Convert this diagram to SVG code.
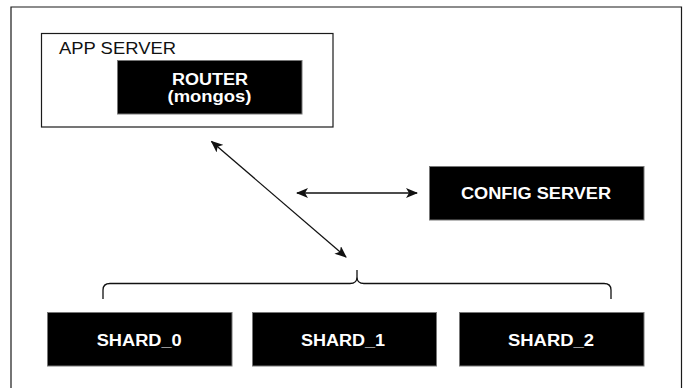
<svg xmlns="http://www.w3.org/2000/svg" width="684" height="388" viewBox="0 0 684 388">
  <style>
    .frame { fill: #ffffff; stroke: #1a1a1a; stroke-width: 1.2; }
    .block { fill: #000000; stroke: #777777; stroke-width: 1; }
    .label { fill: #ffffff; font-family: "Liberation Sans", Arial, sans-serif; font-weight: bold; font-size: 16px; text-anchor: middle; }
    .plain { fill: #111111; font-family: "Liberation Sans", Arial, sans-serif; font-size: 16px; }
    .link { fill: none; stroke: #111111; stroke-width: 1.3; }
  </style>
  <defs>
    <marker id="head" viewBox="0 0 12 10" refX="11" refY="5" markerWidth="12" markerHeight="10" markerUnits="userSpaceOnUse" orient="auto-start-reverse">
      <path d="M0,0 L12,5 L0,10 L3,5 Z" fill="#111111"/>
    </marker>
  </defs>

  <rect width="684" height="388" fill="#ffffff"/>
  <!-- outer border -->
  <path d="M11,390 L11,7 L681.5,7 L681.5,390" fill="none" stroke="#1a1a1a" stroke-width="1.2"/>

  <g id="app-server">
    <rect class="frame" x="41.5" y="33.5" width="291.5" height="93.5"/>
    <text class="plain" x="59" y="53.5" textLength="117" lengthAdjust="spacingAndGlyphs">APP SERVER</text>
  </g>

  <g id="router">
    <rect class="block" x="117.5" y="60.5" width="184.5" height="53.5"/>
    <text class="label" x="210" y="84.5" textLength="76" lengthAdjust="spacingAndGlyphs">ROUTER</text>
    <text class="label" x="209.5" y="101.5" textLength="84" lengthAdjust="spacingAndGlyphs">(mongos)</text>
  </g>

  <g id="config-server">
    <rect class="block" x="429.5" y="166.5" width="214.5" height="53.5"/>
    <text class="label" x="536" y="199.3" textLength="150" lengthAdjust="spacingAndGlyphs">CONFIG SERVER</text>
  </g>

  <g id="shard-0">
    <rect class="block" x="47.5" y="312.5" width="184.5" height="53.5"/>
    <text class="label" x="139.2" y="345.7" textLength="85" lengthAdjust="spacingAndGlyphs">SHARD_0</text>
  </g>

  <g id="shard-1">
    <rect class="block" x="252.5" y="312.5" width="184" height="53.5"/>
    <text class="label" x="343" y="345.7" textLength="84" lengthAdjust="spacingAndGlyphs">SHARD_1</text>
  </g>

  <g id="shard-2">
    <rect class="block" x="459.5" y="312.5" width="184.5" height="53.5"/>
    <text class="label" x="551" y="345.7" textLength="86" lengthAdjust="spacingAndGlyphs">SHARD_2</text>
  </g>

  <g id="connectors">
    <!-- router to shards -->
    <line class="link" x1="211.5" y1="141.5" x2="346" y2="257" marker-start="url(#head)" marker-end="url(#head)"/>
    <!-- router to config server -->
    <line class="link" x1="297" y1="193" x2="417" y2="193" marker-start="url(#head)" marker-end="url(#head)"/>
    <!-- brace grouping the shards -->
    <path class="link" d="M103,299 L103,290 Q103,283.5 110,283.5 L350,283.5 Q357,283.5 357,277 L357,270 M357,277 Q357,283.5 364,283.5 L604,283.5 Q611,283.5 611,290 L611,299"/>
  </g>
</svg>
